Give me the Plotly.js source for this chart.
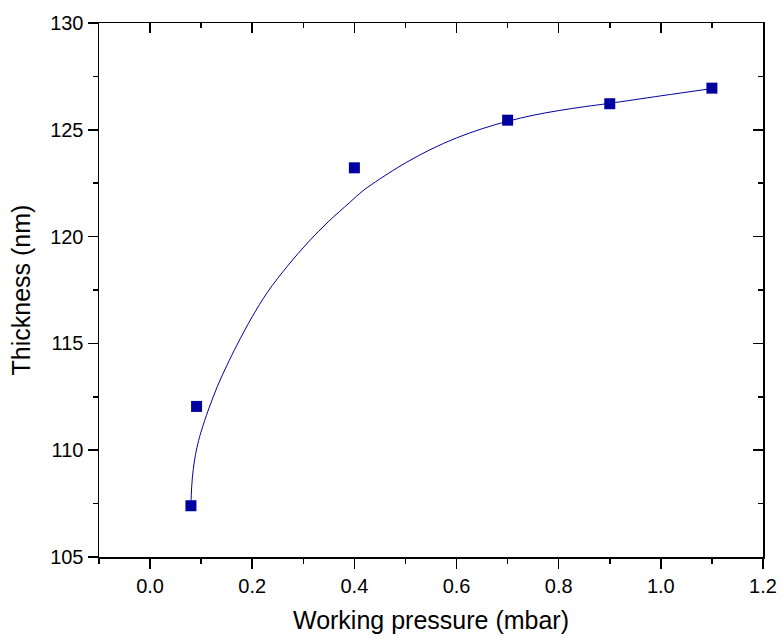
<!DOCTYPE html>
<html>
<head>
<meta charset="utf-8">
<script src="https://cdn.plot.ly/plotly-3.0.1.min.js"></script>
<style>html,body{margin:0;padding:0;background:#fff;}#chart{width:781px;height:639px;}</style>
</head>
<body>
<div id="chart"></div>
<script>
// Measured data points
const pressure = [0.08, 0.091, 0.40, 0.70, 0.90, 1.10];
const thickness = [107.4, 112.05, 123.22, 125.45, 126.22, 126.95];

// Fitted curve
const fitX = [0.0800, 0.0815, 0.0845, 0.0890, 0.0950, 0.1010, 0.1140, 0.1320, 0.1500, 0.1700, 0.2000, 0.2300, 0.2700, 0.3100, 0.3500, 0.3900, 0.4170, 0.4500, 0.5000, 0.5500, 0.6000, 0.6500, 0.7000, 0.7500, 0.8000, 0.8500, 0.9000, 1.0000, 1.1000];
const fitY = [107.40, 108.30, 109.10, 109.80, 110.45, 110.95, 111.88, 113.00, 113.95, 114.92, 116.25, 117.40, 118.65, 119.75, 120.72, 121.58, 122.15, 122.70, 123.45, 124.09, 124.62, 125.05, 125.40, 125.68, 125.90, 126.08, 126.24, 126.59, 126.93];

const xRange = [-0.1, 1.2];
const yRange = [105, 130];

const navy = '#0000A0';
const font = 'Liberation Sans, Arial, sans-serif';

const traces = [
  {x: fitX, y: fitY, mode: 'lines', line: {color: navy, width: 1, shape: 'spline', smoothing: 1}, hoverinfo: 'skip', showlegend: false},
  {x: pressure, y: thickness, mode: 'markers', marker: {symbol: 'square', size: 11, color: navy}, showlegend: false},
  {x: [], y: [], xaxis: 'x2', yaxis: 'y2', showlegend: false}
];

const common = {
  showline: true, linecolor: 'black', linewidth: 1.5, showgrid: false, zeroline: false,
  tickcolor: 'black', tickwidth: 1.5, ticklen: 10,
  tickfont: {family: font, size: 20, color: 'black'}
};

const layout = {
  width: 781, height: 639,
  margin: {l: 99, r: 18, t: 23, b: 82},
  paper_bgcolor: 'white', plot_bgcolor: 'white',
  font: {family: font, color: 'black'},
  xaxis: Object.assign({}, common, {
    range: xRange, tick0: 0, dtick: 0.2, ticks: 'outside', tickformat: '.1f',
    ticklabelstandoff: 0,
    minor: {dtick: 0.1, tick0: 0, ticks: 'outside', ticklen: 5, tickwidth: 1.5, tickcolor: 'black', showgrid: false},
    title: {text: 'Working pressure (mbar)', font: {family: font, size: 25, color: 'black'}, standoff: 16}
  }),
  yaxis: Object.assign({}, common, {
    range: yRange, tick0: 105, dtick: 5, ticks: 'outside',
    minor: {dtick: 2.5, tick0: 105, ticks: 'outside', ticklen: 5, tickwidth: 1.5, tickcolor: 'black', showgrid: false},
    title: {text: 'Thickness (nm)', font: {family: font, size: 25, color: 'black'}, standoff: 12}
  }),
  xaxis2: Object.assign({}, common, {
    range: xRange, tick0: 0, dtick: 0.2, ticks: 'inside', overlaying: 'x', side: 'top', anchor: 'y2',
    showticklabels: false,
    minor: {dtick: 0.1, tick0: 0, ticks: 'inside', ticklen: 5, tickwidth: 1.5, tickcolor: 'black', showgrid: false}
  }),
  yaxis2: Object.assign({}, common, {
    range: yRange, tick0: 105, dtick: 5, ticks: 'inside', overlaying: 'y', side: 'right', anchor: 'x2',
    showticklabels: false,
    minor: {dtick: 2.5, tick0: 105, ticks: 'inside', ticklen: 5, tickwidth: 1.5, tickcolor: 'black', showgrid: false}
  })
};

Plotly.newPlot('chart', traces, layout, {displayModeBar: false, staticPlot: true});
</script>
</body>
</html>
